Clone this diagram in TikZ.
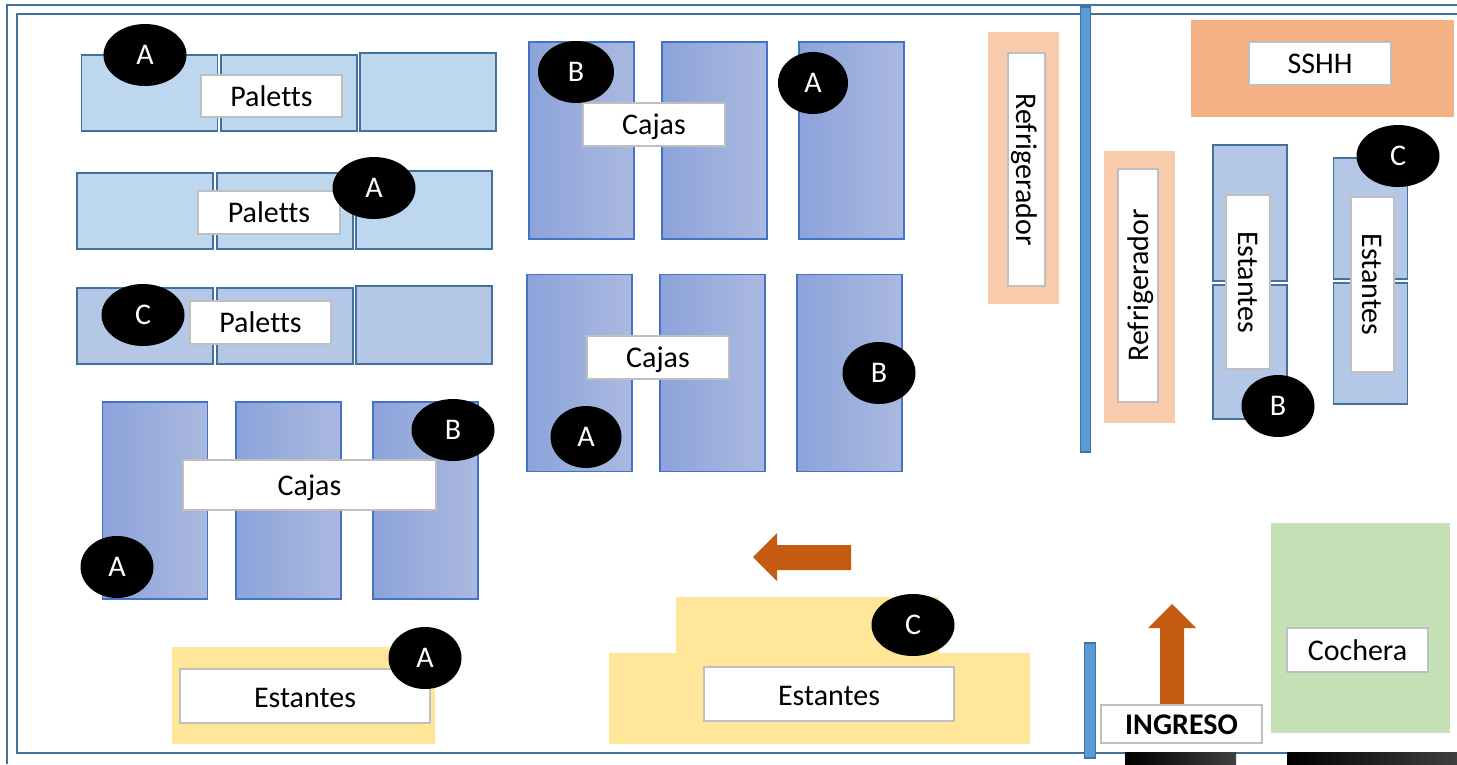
\documentclass[tikz,border=0pt]{standalone}
\usepackage{fontspec}
\setmainfont[Ligatures=NoCommon]{Carlito}
\usepackage{tikz}
\usetikzlibrary{shapes.geometric}
\definecolor{framecol}{HTML}{41719C}
\definecolor{palettcol}{HTML}{BDD7EE}
\definecolor{palettdark}{HTML}{B4C7E7}
\definecolor{cajaleft}{HTML}{8CA3DA}
\definecolor{cajaright}{HTML}{AAB9E0}
\definecolor{cajaline}{HTML}{4472C4}
\definecolor{wallcol}{HTML}{5B9BD5}
\definecolor{yellowcol}{HTML}{FFE699}
\definecolor{peachcol}{HTML}{F8CBAD}
\definecolor{sshhcol}{HTML}{F4B183}
\definecolor{greencol}{HTML}{C5E0B4}
\definecolor{arrowcol}{HTML}{C55A11}
\definecolor{labelline}{HTML}{BFBFBF}
\tikzset{
  zone/.style={rectangle, outer sep=0pt, inner sep=0pt},
  palettbox/.style={zone, draw=framecol, line width=1.6pt, fill=palettcol, minimum width=136, minimum height=76},
  cajabox/.style={zone, draw=cajaline, line width=1.6pt, left color=cajaleft, right color=cajaright, minimum width=105, minimum height=197},
  estantebox/.style={zone, draw=framecol, line width=1.6pt, fill=palettdark, minimum width=74},
  wallbox/.style={zone, draw=framecol, line width=1.6pt, fill=wallcol},
  plainbox/.style={zone},
  labelbox/.style={zone, draw=labelline, line width=1.8pt, fill=white, text=black, text height=24, text depth=4, font=\fontsize{30}{34}\selectfont},
  tag/.style={ellipse, fill=black, text=white, inner sep=0pt, outer sep=0pt, minimum height=62, font=\fontsize{30}{34}\selectfont},
  tagwide/.style={tag, minimum width=83},
  tagnarrow/.style={tag, minimum width=73},
  stub/.style={zone, left color=black, middle color=black, right color=black!75},
  wire/.style={draw=framecol, line width=1.8pt}
}
\begin{document}
\begin{tikzpicture}[x=1pt, y=-1pt]
\useasboundingbox (0,0) rectangle (1457,764);
% Outer frames
\coordinate (OA) at (7,764);
\coordinate (OB) at (7,5);
\coordinate (OC) at (1457,5);
\coordinate (IA) at (1457,14);
\coordinate (IB) at (17,14);
\coordinate (IC) at (17,753);
\coordinate (ID) at (1457,753);
\draw[wire] (OA) -- (OB) -- (OC);
\draw[wire] (IA) -- (IB) -- (IC) -- (ID);
% Paletts
\node[palettbox] (P11) at (149.5,93) {};
\node[palettbox] (P12) at (289,93) {};
\node[palettbox, minimum height=78] (P13) at (428,92) {};
\node[palettbox] (P21) at (145,211) {};
\node[palettbox] (P22) at (285,211) {};
\node[palettbox, minimum height=78] (P23) at (424,210) {};
\node[palettbox, fill=palettdark] (P31) at (145,326) {};
\node[palettbox, fill=palettdark] (P32) at (285,326) {};
\node[palettbox, fill=palettdark, minimum height=78] (P33) at (424,325) {};
% Cajas
\node[cajabox] (C11) at (581.5,140.5) {};
\node[cajabox] (C12) at (714.5,140.5) {};
\node[cajabox] (C13) at (851.5,140.5) {};
\node[cajabox] (C21) at (579.5,373) {};
\node[cajabox] (C22) at (712.5,373) {};
\node[cajabox] (C23) at (849.5,373) {};
\node[cajabox] (C31) at (155,500.5) {};
\node[cajabox] (C32) at (288.5,500.5) {};
\node[cajabox] (C33) at (425.5,500.5) {};
% Estantes, yellow
\node[plainbox, fill=yellowcol, minimum width=263, minimum height=97] (Y1) at (303.5,695.5) {};
\node[plainbox, fill=yellowcol, minimum width=421, minimum height=91] (Y2) at (819.5,698.5) {};
\node[plainbox, fill=yellowcol, minimum width=263, minimum height=57] (Y3) at (807.5,625.5) {};
% Refrigerador, SSHH, Cochera
\node[plainbox, fill=peachcol, minimum width=71, minimum height=272] (R1) at (1023.5,168) {};
\node[plainbox, fill=peachcol, minimum width=71, minimum height=272] (R2) at (1139.5,287) {};
\node[plainbox, fill=sshhcol, minimum width=263, minimum height=97] (S1) at (1322.5,68.5) {};
\node[plainbox, fill=greencol, minimum width=179, minimum height=210] (G1) at (1360.5,628) {};
% Estantes, blue
\node[estantebox, minimum height=136] (E11) at (1250,213) {};
\node[estantebox, minimum height=134] (E12) at (1250,352) {};
\node[estantebox, minimum height=121] (E21) at (1370.5,218.5) {};
\node[estantebox, minimum height=121] (E22) at (1370.5,343.5) {};
% Walls
\node[wallbox, minimum width=10, minimum height=445] (W1) at (1085.5,229.5) {};
\node[wallbox, minimum width=11, minimum height=115] (W2) at (1090,700.5) {};
% Arrows
\fill[arrowcol] (753,557) -- (777,533) -- (777,545) -- (851,545) -- (851,570) -- (777,570) -- (777,581) -- cycle;
\fill[arrowcol] (1172,604) -- (1196,628) -- (1184,628) -- (1184,706) -- (1160,706) -- (1160,628) -- (1148,628) -- cycle;
% Ground pieces under the entrance
\node[stub, minimum width=111, minimum height=12] (B1) at (1180.5,758) {};
\node[stub, minimum width=170, minimum height=12] (B2) at (1372,758) {};
% Labels
\node[labelbox, minimum width=141, minimum height=42] (LP1) at (271.5,96) {Paletts};
\node[labelbox, minimum width=142, minimum height=43] (LP2) at (269,212.5) {Paletts};
\node[labelbox, minimum width=141, minimum height=43] (LP3) at (260.5,322.5) {Paletts};
\node[labelbox, minimum width=142, minimum height=43] (LC1) at (654,124.5) {Cajas};
\node[labelbox, minimum width=142, minimum height=43] (LC2) at (658,357.5) {Cajas};
\node[labelbox, minimum width=253, minimum height=50] (LC3) at (309.5,485) {Cajas};
\node[labelbox, minimum width=250, minimum height=54, text height=26] (LE1) at (305,696) {Estantes};
\node[labelbox, minimum width=250, minimum height=54, text height=26] (LE2) at (829,694) {Estantes};
\node[labelbox, rotate=-90, minimum width=233, minimum height=37] (LR1) at (1026.5,169.5) {Refrigerador};
\node[labelbox, rotate=90, minimum width=233, minimum height=40] (LR2) at (1138,285.5) {Refrigerador};
\node[labelbox, minimum width=142, minimum height=43] (LS) at (1320,63.5) {SSHH};
\node[labelbox, rotate=-90, minimum width=174, minimum height=44] (LE3) at (1248,282) {Estantes};
\node[labelbox, rotate=-90, minimum width=175, minimum height=43] (LE4) at (1372.5,284.5) {Estantes};
\node[labelbox, minimum width=141, minimum height=44] (LG) at (1357.5,650) {Cochera};
\node[labelbox, minimum width=161, minimum height=38, font=\fontsize{30}{34}\selectfont\bfseries] (LI) at (1181.5,724) {INGRESO};
% Tags
\node[tagwide] (T1) at (145,55) {A};
\node[tagwide] (T2) at (374,188) {A};
\node[tagwide] (T3) at (143,315) {C};
\node[tagwide] (T4) at (453,430) {B};
\node[tagnarrow] (T5) at (117,567) {A};
\node[tagnarrow] (T6) at (425,658) {A};
\node[tag, minimum width=76] (T7) at (576,72) {B};
\node[tag, minimum width=70] (T8) at (813,83) {A};
\node[tag, minimum width=71] (T9) at (586,437) {A};
\node[tagnarrow] (T10) at (879,373) {B};
\node[tagwide] (T11) at (913,625) {C};
\node[tagnarrow] (T12) at (1278,406) {B};
\node[tagwide] (T13) at (1398,156) {C};
\end{tikzpicture}
\end{document}
